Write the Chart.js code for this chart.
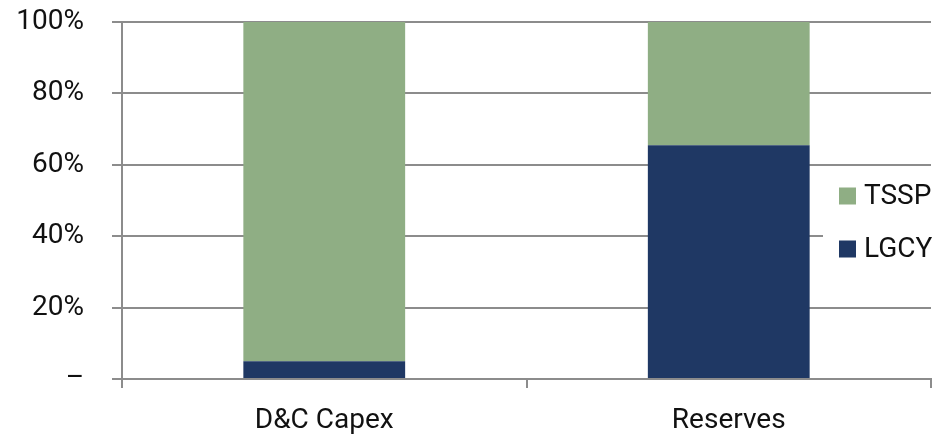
<!DOCTYPE html>
<html>
<head>
<meta charset="utf-8">
<style>
  html, body { margin: 0; padding: 0; background: #fff; }
  #wrap { width: 951px; height: 435px; position: relative; }
</style>
<script src="https://cdn.jsdelivr.net/npm/chart.js@4/dist/chart.umd.min.js"></script>
</head>
<body>
<div id="wrap"><canvas id="c" width="951" height="435"></canvas></div>
<script>
// Share of each metric held by each company (percent)
const categories = ['D&C Capex', 'Reserves'];
const lgcyShare = [5, 65.5];
const tsspShare = [95, 34.5];
const yTicks = [0, 20, 40, 60, 80, 100];

const GREEN = '#8fae84';
const NAVY = '#1f3864';
const GRID = '#8c8c8c';
const FONT = 'Roboto, "DejaVu Sans", sans-serif';

// Legend drawn inside the plot on a white panel, top series first
const insideLegend = {
  id: 'insideLegend',
  afterDatasetsDraw(chart) {
    const ctx = chart.ctx;
    const items = chart.data.datasets.slice().reverse();
    ctx.save();
    ctx.fillStyle = '#ffffff';
    ctx.fillRect(823, 172, 128, 100);
    ctx.font = '28px ' + FONT;
    ctx.textBaseline = 'middle';
    ctx.textAlign = 'left';
    items.forEach((ds, i) => {
      const cy = 196 + i * 53;
      ctx.fillStyle = ds.backgroundColor;
      ctx.fillRect(839, cy - 8.5, 17, 17);
      ctx.fillStyle = '#111';
      ctx.fillText(ds.label, 864, cy + 1);
    });
    ctx.restore();
  }
};

new Chart(document.getElementById('c'), {
  type: 'bar',
  data: {
    labels: categories,
    datasets: [
      { label: 'LGCY', data: lgcyShare, backgroundColor: NAVY, borderWidth: 0 },
      { label: 'TSSP', data: tsspShare, backgroundColor: GREEN, borderWidth: 0 }
    ]
  },
  options: {
    responsive: false,
    animation: false,
    devicePixelRatio: 1,
    layout: { padding: { top: 22, right: 20, bottom: 0, left: 0 } },
    plugins: { legend: { display: false }, tooltip: { enabled: false } },
    datasets: { bar: { categoryPercentage: 1, barPercentage: 0.4 } },
    scales: {
      x: {
        stacked: true,
        grid: { drawOnChartArea: false, drawTicks: true, tickLength: 9, color: GRID, lineWidth: 2, offset: true },
        border: { color: GRID, width: 2 },
        ticks: { color: '#111', font: { family: FONT, size: 28 }, padding: 16, maxRotation: 0 },
        afterFit(s) { s.height = 56; s.paddingLeft = 0; s.paddingRight = 0; }
      },
      y: {
        stacked: true,
        min: 0,
        max: 100,
        afterBuildTicks(s) { s.ticks = yTicks.map(v => ({ value: v })); },
        grid: { color: GRID, lineWidth: 2, drawTicks: true, tickLength: 10 },
        border: { color: GRID, width: 2 },
        ticks: {
          color: '#111',
          font: { family: FONT, size: 28 },
          padding: 28,
          callback: v => v === 0 ? '–' : v + '%'
        },
        afterFit(s) { s.width = 122; s.paddingTop = 0; s.paddingBottom = 0; }
      }
    }
  },
  plugins: [insideLegend]
});
</script>
</body>
</html>
